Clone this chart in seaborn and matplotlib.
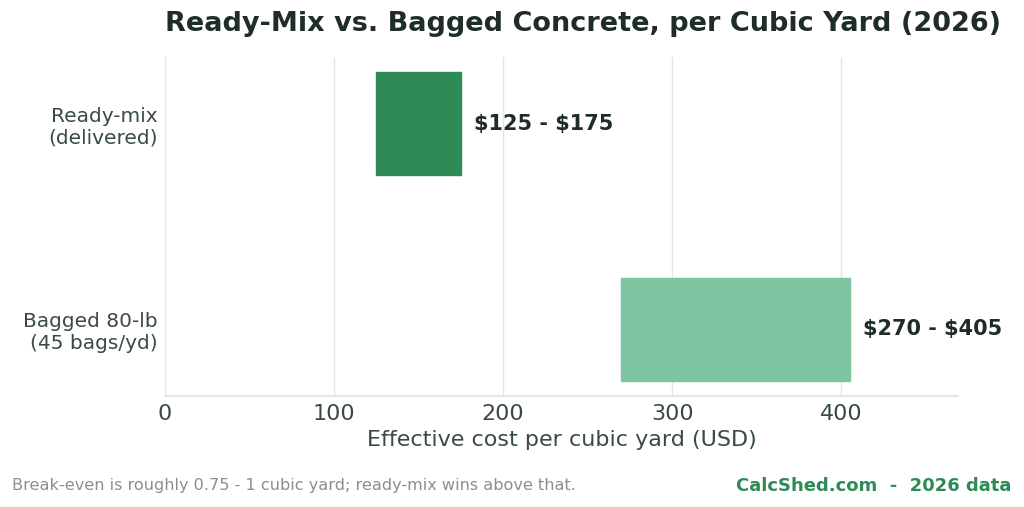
import matplotlib
matplotlib.use("Agg")
import matplotlib.pyplot as plt
import seaborn as sns
import pandas as pd

# data
options = ["Ready-mix\n(delivered)", "Bagged 80-lb\n(45 bags/yd)"]
low_cost = [125, 270]
high_cost = [175, 405]
bar_colors = ["#2e8b57", "#7dc4a0"]

df = pd.DataFrame({"option": options, "low": low_cost, "high": high_cost})
df["span"] = df["high"] - df["low"]

sns.set_theme(style="whitegrid")
plt.rcParams["font.family"] = ["DejaVu Sans"]

fig = plt.figure(figsize=(10.24, 5.07), dpi=100)
ax = fig.add_axes([0.161, 0.219, 0.7745, 0.6685])

# floating bars: span drawn from the low value
sns.barplot(data=df, y="option", x="span", color=bar_colors[0],
            left=df["low"].values, width=0.5, ax=ax, saturation=1)
for patch, c in zip(ax.patches, bar_colors):
    patch.set_facecolor(c)
    patch.set_edgecolor(c)

for i, row in df.iterrows():
    ax.text(row["high"] + 8, i, f"\\${row['low']} - \\${row['high']}",
            va="center", ha="left", fontsize=15, fontweight="bold", color="#1f2d2a")

ax.set_xlim(0, 469)
ax.set_ylim(1.323, -0.323)
ax.set_xticks([0, 100, 200, 300, 400])
ax.set_xlabel("Effective cost per cubic yard (USD)", fontsize=16, color="#3a4a45")
ax.set_ylabel("")
ax.tick_params(axis="x", labelsize=16, colors="#3a4a45", length=0, pad=6)
ax.tick_params(axis="y", labelsize=14.5, colors="#3a4a45", length=0, pad=5)
ax.grid(axis="x", color="#e4e4e4", linewidth=1)
ax.grid(axis="y", visible=False)
for s in ["top", "right", "left"]:
    ax.spines[s].set_visible(False)
ax.spines["bottom"].set_color("#dde3e1")
ax.spines["bottom"].set_linewidth(1.2)

fig.text(0.569, 0.953, "Ready-Mix vs. Bagged Concrete, per Cubic Yard (2026)",
         ha="center", va="center", fontsize=19.5, fontweight="bold", color="#1f2d2a")
fig.text(0.012, 0.042, "Break-even is roughly 0.75 - 1 cubic yard; ready-mix wins above that.",
         ha="left", va="center", fontsize=11.6, color="#8a8f8d")
fig.text(0.988, 0.042, "CalcShed.com  -  2026 data",
         ha="right", va="center", fontsize=13, fontweight="bold", color="#2e8b57")

fig.savefig("out.png", dpi=100)
